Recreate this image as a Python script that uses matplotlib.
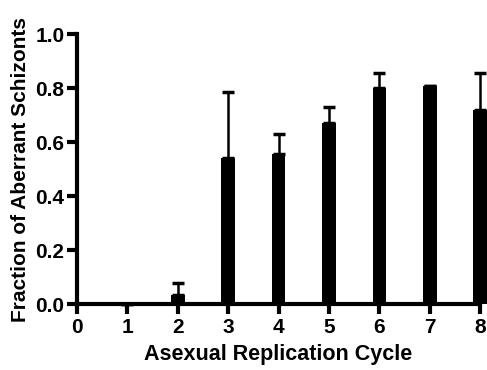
import numpy as np
import matplotlib
matplotlib.use("Agg")
from matplotlib import pyplot as plt

plt.rcParams['font.family'] = ['Liberation Sans', 'DejaVu Sans']
plt.rcParams['font.weight'] = 'bold'

cycles = [1, 2, 3, 4, 5, 6, 7, 8]
fraction = [0.0, 0.035, 0.54, 0.555, 0.67, 0.80, 0.807, 0.72]
upper_err = [0.0, 0.045, 0.245, 0.075, 0.06, 0.055, 0.0, 0.135]

fig = plt.figure(figsize=(4.87, 3.70), dpi=100)
ax = fig.add_axes([0.158, 0.178, 0.828, 0.730])

lower = np.zeros(len(upper_err))
bars = ax.bar(cycles, fraction, width=0.27, color='black',
              yerr=[lower, upper_err], ecolor='black',
              error_kw=dict(elinewidth=1.8, capsize=4, capthick=2.5))
for p in bars.patches:
    p.set_clip_on(False)
for art in bars.errorbar.lines[1] + bars.errorbar.lines[2]:
    art.set_clip_on(False)

ax.set_xlim(0, 8)
ax.set_ylim(0, 1.0)
ax.set_xticks(range(0, 9))
ax.set_yticks([0.0, 0.2, 0.4, 0.6, 0.8, 1.0])
ax.set_yticklabels(['0.0', '0.2', '0.4', '0.6', '0.8', '1.0'])

for s in ['top', 'right']:
    ax.spines[s].set_visible(False)
for s in ['left', 'bottom']:
    ax.spines[s].set_linewidth(3)
ax.tick_params(width=3, length=7, labelsize=15, pad=2)
ax.tick_params(axis='x', pad=3)
for lab in ax.get_xticklabels() + ax.get_yticklabels():
    lab.set_fontweight('bold')

ax.set_xlabel('Asexual Replication Cycle', fontsize=15.5, fontweight='bold', labelpad=5)
ax.set_ylabel('Fraction of Aberrant Schizonts', fontsize=15, fontweight='bold', labelpad=4)
for s in ['left', 'bottom']:
    ax.spines[s].set_clip_on(False)

fig.savefig('out.png', dpi=100)
